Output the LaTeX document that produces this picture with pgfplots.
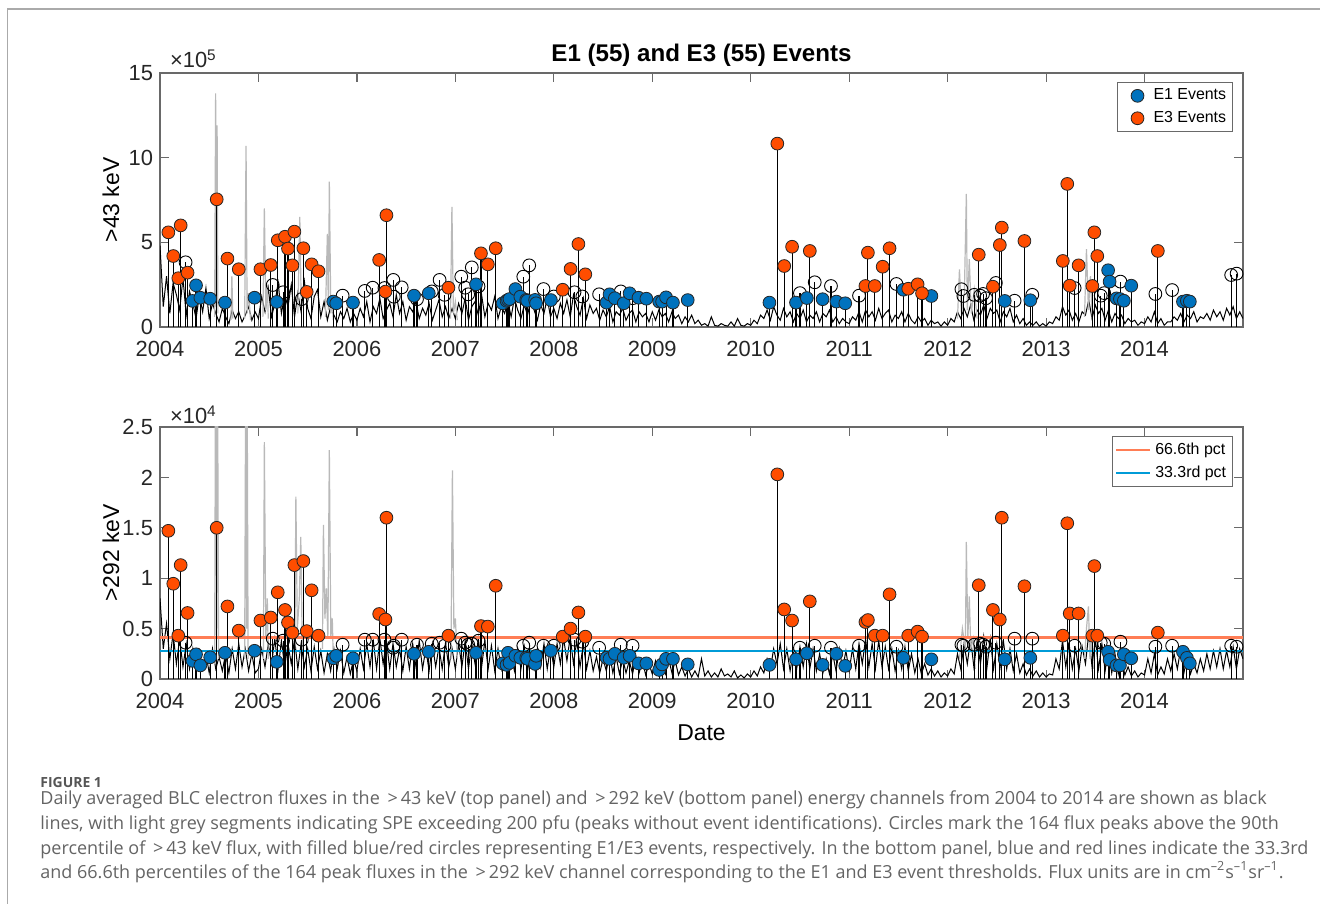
\documentclass[border=0pt]{standalone}
\usepackage{fontspec}
\setmainfont{Liberation Sans}
\newfontfamily\capfont{Open Sans}
\usepackage{pgfplots}
\usepackage{pgfplotstable}
\pgfplotsset{compat=1.18}

\definecolor{eone}{RGB}{0,114,189}
\definecolor{ethree}{RGB}{255,77,0}
\definecolor{pcthi}{RGB}{255,125,85}
\definecolor{pctlo}{RGB}{0,155,215}
\definecolor{spe}{RGB}{185,185,185}
\definecolor{axgray}{RGB}{105,105,105}
\definecolor{framegray}{RGB}{170,170,170}
\definecolor{captxt}{RGB}{100,100,100}
\definecolor{caphead}{RGB}{85,85,85}

% E1 events: date, >43 keV peak (x1e5), >292 keV peak (x1e4)
\pgfplotstableread{
t top bot
2004.330 1.54 0.180
2004.366 2.46 0.245
2004.410 1.73 0.135
2004.510 1.67 0.215
2004.660 1.44 0.260
2004.960 1.73 0.280
2005.186 1.48 0.170
2005.760 1.50 0.205
2005.790 1.40 0.230
2005.960 1.44 0.205
2006.580 1.85 0.250
2006.730 1.99 0.270
2007.210 2.52 0.260
2007.480 1.40 0.155
2007.520 1.55 0.140
2007.535 1.60 0.260
2007.550 1.65 0.160
2007.610 2.24 0.230
2007.660 1.79 0.210
2007.720 1.60 0.210
2007.730 1.55 0.200
2007.810 1.60 0.150
2007.820 1.40 0.230
2007.970 1.59 0.280
2008.535 1.44 0.210
2008.566 1.93 0.200
2008.620 1.70 0.250
2008.710 1.40 0.210
2008.770 1.99 0.230
2008.860 1.73 0.155
2008.940 1.67 0.155
2009.070 1.50 0.090
2009.100 1.50 0.145
2009.140 1.75 0.200
2009.210 1.44 0.200
2009.360 1.59 0.145
2010.190 1.44 0.140
2010.460 1.44 0.195
2010.570 1.71 0.255
2010.730 1.64 0.140
2010.870 1.50 0.250
2010.960 1.40 0.130
2011.550 2.20 0.210
2011.835 1.83 0.195
2012.580 1.54 0.195
2012.840 1.58 0.210
2013.630 3.35 0.270
2013.645 2.68 0.190
2013.715 1.69 0.135
2013.750 1.65 0.135
2013.790 1.55 0.245
2013.865 2.44 0.205
2014.390 1.50 0.270
2014.430 1.55 0.210
2014.460 1.50 0.155
}\evOne

% E3 events
\pgfplotstableread{
t top bot
2004.085 5.59 1.470
2004.135 4.19 0.945
2004.186 2.88 0.430
2004.210 6.00 1.130
2004.280 3.21 0.655
2004.576 7.54 1.500
2004.685 4.04 0.720
2004.800 3.41 0.480
2005.020 3.41 0.580
2005.125 3.66 0.610
2005.196 5.12 0.860
2005.270 5.33 0.685
2005.300 4.63 0.560
2005.345 3.64 0.460
2005.365 5.63 1.130
2005.456 4.65 1.170
2005.490 2.07 0.475
2005.540 3.70 0.880
2005.610 3.29 0.430
2006.226 3.96 0.645
2006.290 2.09 0.590
2006.300 6.60 1.600
2006.930 2.32 0.430
2007.260 4.35 0.525
2007.330 3.70 0.520
2007.410 4.65 0.925
2008.090 2.20 0.420
2008.170 3.43 0.500
2008.250 4.90 0.660
2008.320 3.11 0.420
2010.270 10.83 2.030
2010.340 3.60 0.690
2010.420 4.74 0.580
2010.600 4.49 0.770
2011.165 2.42 0.565
2011.190 4.39 0.585
2011.260 2.42 0.430
2011.340 3.56 0.430
2011.410 4.65 0.840
2011.600 2.26 0.430
2011.695 2.52 0.470
2011.740 1.99 0.420
2012.316 4.27 0.930
2012.460 2.38 0.685
2012.530 4.84 0.590
2012.550 5.87 1.600
2012.780 5.08 0.920
2013.170 3.90 0.430
2013.215 8.45 1.545
2013.240 2.44 0.650
2013.330 3.64 0.650
2013.470 2.42 0.430
2013.490 5.59 1.120
2013.520 4.19 0.430
2014.135 4.49 0.460
}\evThree

% remaining peaks above the 90th percentile (no event class)
\pgfplotstableread{
t top bot
2004.260 3.82 0.36
2005.145 2.48 0.40
2005.250 2.05 0.38
2005.440 1.65 0.39
2005.855 1.85 0.34
2006.080 2.13 0.39
2006.160 2.32 0.39
2006.280 2.30 0.39
2006.370 2.78 0.31
2006.375 1.79 0.33
2006.455 2.34 0.39
2006.610 1.64 0.34
2006.760 2.10 0.35
2006.840 2.78 0.36
2006.890 1.90 0.33
2007.060 2.97 0.40
2007.100 2.32 0.36
2007.130 1.93 0.34
2007.167 3.52 0.35
2007.235 2.40 0.38
2007.690 2.97 0.33
2007.750 3.64 0.36
2007.895 2.24 0.33
2008.000 1.80 0.33
2008.210 2.05 0.39
2008.290 1.80 0.37
2008.460 1.93 0.31
2008.680 2.10 0.34
2008.800 1.70 0.33
2010.500 2.00 0.31
2010.650 2.64 0.33
2010.815 2.42 0.31
2011.100 1.85 0.33
2011.480 2.54 0.32
2012.140 2.23 0.34
2012.160 1.83 0.33
2012.270 1.90 0.34
2012.330 1.85 0.35
2012.360 1.95 0.34
2012.390 1.70 0.32
2012.490 2.60 0.36
2012.680 1.55 0.40
2012.860 1.90 0.40
2013.290 2.30 0.33
2013.555 1.85 0.36
2013.590 2.00 0.35
2013.755 2.68 0.37
2014.110 1.95 0.32
2014.280 2.18 0.33
2014.880 3.07 0.33
2014.935 3.15 0.32
}\evOther

% >43 keV flux (x1e5), sampled 30 times per year from 2004.0
\pgfplotstableread[row sep=\\]{v\\
4.8\\1.2\\3.0\\0.8\\2.6\\1.9\\1.0\\2.9\\0.7\\2.1\\1.4\\0.5\\1.9\\0.9\\2.3\\0.5\\1.4\\0.8\\0.3\\1.1\\0.6\\0.2\\1.0\\0.5\\0.9\\0.3\\0.7\\1.2\\0.4\\0.9\\
0.5\\1.8\\0.9\\2.3\\0.6\\1.4\\2.6\\0.8\\1.9\\1.2\\2.5\\0.6\\2.0\\0.9\\2.7\\1.1\\0.5\\1.8\\2.2\\0.6\\1.5\\0.4\\1.2\\0.7\\0.3\\0.9\\0.5\\1.1\\0.3\\0.8\\
0.4\\1.1\\0.6\\1.5\\0.3\\1.2\\0.8\\1.7\\0.5\\1.0\\1.4\\0.6\\1.9\\0.8\\1.5\\0.4\\1.2\\0.9\\1.5\\0.5\\1.1\\0.7\\1.4\\0.4\\1.0\\1.6\\0.6\\1.2\\0.5\\1.1\\
0.5\\1.4\\0.8\\1.7\\0.4\\1.2\\1.5\\0.7\\1.9\\0.6\\1.4\\1.0\\1.8\\0.5\\1.2\\0.8\\1.5\\0.6\\1.7\\1.0\\0.5\\1.3\\0.7\\1.6\\1.0\\0.4\\1.3\\0.8\\1.7\\0.6\\
1.1\\0.5\\1.4\\0.8\\1.6\\0.6\\1.9\\1.2\\0.7\\1.7\\0.5\\1.3\\0.8\\1.1\\0.4\\1.0\\0.6\\1.2\\0.3\\0.9\\0.7\\1.1\\0.4\\0.8\\1.0\\0.3\\0.9\\0.6\\0.8\\0.3\\
0.9\\0.4\\1.0\\0.6\\0.8\\0.3\\0.9\\0.5\\0.7\\0.2\\0.6\\0.3\\0.7\\0.2\\0.4\\0.1\\0.2\\0.05\\0.6\\0.1\\0.05\\0.2\\0.1\\0.05\\0.3\\0.05\\0.5\\0.1\\0.05\\0.2\\
0.1\\0.4\\0.2\\0.7\\0.5\\1.0\\0.4\\1.2\\0.7\\0.4\\1.1\\0.6\\0.9\\0.3\\0.8\\0.5\\1.0\\0.3\\0.7\\0.5\\0.9\\0.3\\0.8\\0.6\\1.0\\0.3\\0.6\\0.2\\0.5\\0.3\\
0.2\\0.6\\0.4\\0.9\\0.3\\1.0\\0.6\\0.9\\0.4\\1.1\\0.5\\0.8\\1.0\\0.3\\0.7\\0.5\\0.9\\0.3\\0.8\\0.4\\0.2\\0.6\\0.3\\0.5\\0.1\\0.4\\0.2\\0.3\\0.05\\0.3\\
0.1\\0.5\\0.3\\0.9\\0.5\\1.1\\0.6\\1.3\\0.4\\1.0\\0.7\\1.3\\0.5\\1.1\\0.8\\1.0\\0.3\\0.9\\0.6\\1.1\\0.3\\0.7\\0.2\\0.5\\0.1\\0.3\\0.1\\0.3\\0.05\\0.2\\
0.05\\0.3\\0.2\\0.6\\0.4\\1.2\\0.7\\1.0\\0.4\\0.8\\0.3\\0.9\\0.7\\1.6\\0.5\\1.3\\0.8\\1.1\\0.4\\1.0\\0.3\\0.8\\0.5\\0.7\\0.2\\0.5\\0.3\\0.4\\0.1\\0.3\\
0.2\\0.6\\0.3\\0.9\\0.2\\0.5\\0.1\\0.3\\0.3\\0.6\\0.4\\0.8\\0.3\\0.7\\0.5\\0.9\\0.3\\0.6\\0.5\\0.8\\0.4\\1.0\\0.6\\0.9\\0.4\\1.1\\0.7\\1.2\\0.5\\0.9\\
0.5\\
}\fluxLow

% >292 keV flux (x1e4), same sampling
\pgfplotstableread[row sep=\\]{v\\
0.80\\0.30\\0.55\\0.20\\0.45\\0.15\\0.40\\0.12\\0.35\\0.10\\0.30\\0.08\\0.28\\0.10\\0.25\\0.06\\0.30\\0.10\\0.22\\0.08\\0.25\\0.06\\0.30\\0.10\\0.35\\0.12\\0.30\\0.08\\0.25\\0.06\\
0.10\\0.30\\0.12\\0.35\\0.15\\0.40\\0.10\\0.38\\0.12\\0.35\\0.15\\0.40\\0.10\\0.35\\0.12\\0.30\\0.08\\0.32\\0.10\\0.28\\0.06\\0.25\\0.08\\0.30\\0.10\\0.28\\0.06\\0.22\\0.05\\0.20\\
0.08\\0.30\\0.10\\0.35\\0.12\\0.38\\0.10\\0.40\\0.15\\0.38\\0.10\\0.35\\0.12\\0.30\\0.08\\0.32\\0.10\\0.35\\0.12\\0.38\\0.10\\0.30\\0.08\\0.35\\0.12\\0.32\\0.10\\0.36\\0.12\\0.30\\
0.10\\0.35\\0.12\\0.38\\0.10\\0.35\\0.15\\0.40\\0.12\\0.38\\0.10\\0.33\\0.08\\0.30\\0.10\\0.28\\0.06\\0.25\\0.08\\0.30\\0.10\\0.32\\0.08\\0.28\\0.10\\0.30\\0.12\\0.35\\0.10\\0.32\\
0.12\\0.35\\0.15\\0.40\\0.18\\0.42\\0.15\\0.38\\0.12\\0.35\\0.10\\0.28\\0.08\\0.22\\0.06\\0.20\\0.08\\0.25\\0.06\\0.22\\0.05\\0.20\\0.06\\0.18\\0.05\\0.22\\0.06\\0.18\\0.04\\0.15\\
0.05\\0.18\\0.04\\0.15\\0.05\\0.20\\0.06\\0.18\\0.04\\0.12\\0.03\\0.10\\0.02\\0.08\\0.02\\0.20\\0.03\\0.08\\0.02\\0.06\\0.02\\0.10\\0.03\\0.05\\0.02\\0.08\\0.01\\0.04\\0.01\\0.05\\
0.02\\0.08\\0.03\\0.12\\0.06\\0.20\\0.10\\0.30\\0.15\\0.35\\0.10\\0.30\\0.08\\0.28\\0.10\\0.32\\0.12\\0.35\\0.10\\0.30\\0.08\\0.25\\0.06\\0.20\\0.05\\0.25\\0.08\\0.30\\0.10\\0.28\\
0.08\\0.30\\0.10\\0.35\\0.15\\0.40\\0.12\\0.35\\0.10\\0.38\\0.12\\0.32\\0.10\\0.30\\0.08\\0.28\\0.10\\0.32\\0.08\\0.25\\0.06\\0.20\\0.05\\0.15\\0.04\\0.10\\0.03\\0.08\\0.02\\0.06\\
0.03\\0.10\\0.05\\0.25\\0.10\\0.35\\0.15\\0.40\\0.12\\0.38\\0.15\\0.42\\0.12\\0.40\\0.10\\0.35\\0.12\\0.38\\0.10\\0.30\\0.08\\0.25\\0.06\\0.15\\0.04\\0.10\\0.03\\0.08\\0.02\\0.06\\
0.02\\0.05\\0.04\\0.20\\0.10\\0.38\\0.12\\0.35\\0.10\\0.30\\0.08\\0.32\\0.15\\0.45\\0.12\\0.40\\0.10\\0.35\\0.08\\0.30\\0.06\\0.25\\0.05\\0.20\\0.04\\0.12\\0.03\\0.08\\0.02\\0.06\\
0.04\\0.20\\0.06\\0.25\\0.04\\0.12\\0.05\\0.20\\0.08\\0.25\\0.10\\0.30\\0.06\\0.22\\0.05\\0.15\\0.06\\0.20\\0.08\\0.25\\0.10\\0.28\\0.12\\0.30\\0.10\\0.28\\0.12\\0.32\\0.10\\0.30\\
0.20\\
}\fluxHigh

% solar proton event segments, >43 keV (x1e5)
\pgfplotstableread{
t v
2004.555 0.6
2004.565 13.8
2004.572 1.2
2004.580 11.9
2004.588 0.8
nan nan
2004.720 0.4
2004.730 3.0
2004.740 0.5
nan nan
2004.860 0.5
2004.874 10.7
2004.885 0.8
2004.900 2.0
2004.920 0.4
nan nan
2005.045 0.6
2005.060 7.0
2005.075 1.0
2005.090 2.5
2005.100 0.5
nan nan
2005.400 0.8
2005.420 6.5
2005.435 1.2
nan nan
2005.680 0.6
2005.700 5.5
2005.710 1.0
2005.720 8.58
2005.735 0.8
2005.750 1.5
2005.760 0.4
nan nan
2006.950 0.5
2006.965 7.1
2006.980 0.8
2007.000 1.5
2007.020 0.4
nan nan
2012.100 0.5
2012.120 3.4
2012.140 0.8
2012.170 2.0
2012.190 7.86
2012.200 1.0
2012.220 4.0
2012.240 0.8
2012.270 2.2
2012.300 0.5
nan nan
2013.390 0.6
2013.410 4.6
2013.430 1.0
2013.450 3.0
2013.470 0.5
}\speLow

% solar proton event segments, >292 keV (x1e4)
\pgfplotstableread{
t v
2004.555 0.15
2004.565 3.5
2004.575 0.4
2004.585 3.0
2004.595 0.2
nan nan
2004.860 0.2
2004.870 3.0
2004.878 0.5
2004.885 3.0
2004.895 0.2
nan nan
2005.050 0.2
2005.060 2.35
2005.075 0.4
2005.090 0.8
2005.100 0.2
nan nan
2005.370 0.3
2005.380 1.81
2005.395 0.5
2005.415 0.8
2005.430 1.41
2005.445 0.3
nan nan
2005.650 0.3
2005.660 1.53
2005.675 0.6
2005.690 0.9
2005.705 0.4
2005.720 2.27
2005.735 0.4
2005.750 0.6
2005.760 0.2
nan nan
2006.955 0.2
2006.970 2.07
2006.985 0.5
2007.000 0.6
2007.020 0.2
nan nan
2012.120 0.2
2012.150 0.5
2012.180 0.3
2012.190 1.36
2012.205 0.4
2012.220 0.82
2012.235 0.3
2012.260 0.4
2012.280 0.1
nan nan
2013.390 0.2
2013.410 0.5
2013.430 0.72
2013.445 0.2
2013.460 0.4
2013.480 0.1
}\speHigh

% percentile thresholds of the 164 peak fluxes, >292 keV (x1e4)
\pgfplotstableread{
t hi lo
2004 0.41 0.278
2015 0.41 0.278
}\thresholds

\pgfplotsset{
  fluxaxis/.style={
    scale only axis, width=541.5bp,
    xmin=2004, xmax=2015, ymin=0,
    xtick={2004,2005,2006,2007,2008,2009,2010,2011,2012,2013,2014},
    tick align=inside, major tick length=4.7bp,
    axis line style={draw=axgray, line width=0.6bp},
    every tick/.append style={draw=axgray, line width=0.6bp},
    tick label style={font=\fontsize{11}{13}\selectfont, text=black!85},
    xticklabel style={yshift=-3.5bp},
    /pgf/number format/1000 sep={},
    /pgf/number format/assume math mode=true,
    scaled y ticks=false,
    every axis y label/.style={at={(axis description cs:-0.0452,0.5)}, rotate=90, anchor=center, font=\fontsize{11.5}{13}\selectfont},
    every axis x label/.style={at={(axis description cs:0.5,-0.214)}, anchor=center, font=\fontsize{11.5}{13}\selectfont},
    legend cell align=left,
    legend style={draw=axgray, line width=0.5bp, font=\fontsize{8}{10}\selectfont, inner sep=1.2bp, row sep=0.2bp},
  },
  dailyflux/.style={black, line width=0.5bp, forget plot},
  spesegment/.style={spe, line width=0.6bp, unbounded coords=jump, forget plot},
  stem/.style={ycomb, black, line width=0.55bp, no marks, forget plot},
  peakopen/.style={only marks, mark=o, mark size=3.2bp, mark options={draw=black, line width=0.45bp}, forget plot},
  peakmark/.style={draw=none, mark=*, mark size=3.2bp,
    mark options={fill=#1, draw=black!85, line width=0.4bp},
    legend image code/.code={\draw[mark repeat=2, mark phase=2, ##1, draw=none] plot coordinates {(0bp,0bp) (9bp,0bp) (15bp,0bp)};}},
}

\begin{document}
\begin{tikzpicture}
\useasboundingbox (0,0) rectangle (660bp,452bp);
\draw[framegray, line width=0.75bp] (3.7bp,0) -- (3.7bp,447.5bp) -- (660bp,447.5bp);

% >43 keV panel
\begin{axis}[fluxaxis, at={(80bp,288.5bp)}, anchor=south west, height=127bp,
  ymax=15, ytick={0,5,10,15}, ylabel={>43 keV},
  title={E1 (55) and E3 (55) Events},
  title style={font=\bfseries\fontsize{12.1}{14}\selectfont, at={(axis description cs:0.5,1.024)}, anchor=center, yshift=0pt},
  legend style={at={(0.9908,0.9646)}, anchor=north east}]
\addplot[dailyflux] table[x expr={2004+\coordindex/30}, y=v] {\fluxLow};
\addplot[spesegment] table[x=t, y=v] {\speLow};
\addplot[stem] table[x=t, y=top] {\evOther};
\addplot[stem] table[x=t, y=top] {\evOne};
\addplot[stem] table[x=t, y=top] {\evThree};
\addplot[peakopen] table[x=t, y=top] {\evOther};
\addplot[peakmark=eone] table[x=t, y=top] {\evOne};
\addlegendentry{E1 Events}
\addplot[peakmark=ethree] table[x=t, y=top] {\evThree};
\addlegendentry{E3 Events}
\end{axis}
\node[anchor=base west, font=\fontsize{11}{13}\selectfont, text=black!85] at (81.5bp,418bp) {×10\textsuperscript{5}};

% >292 keV panel
\begin{axis}[fluxaxis, at={(80bp,112.5bp)}, anchor=south west, height=126bp,
  ymax=2.5, ytick={0,0.5,1,1.5,2,2.5}, ylabel={>292 keV}, xlabel={Date},
  legend style={at={(0.9908,0.9655)}, anchor=north east}]
\addplot[dailyflux] table[x expr={2004+\coordindex/30}, y=v] {\fluxHigh};
\addplot[spesegment] table[x=t, y=v] {\speHigh};
\addplot[pcthi, line width=1.2bp] table[x=t, y=hi] {\thresholds};
\addlegendentry{66.6th pct}
\addplot[pctlo, line width=1.2bp] table[x=t, y=lo] {\thresholds};
\addlegendentry{33.3rd pct}
\addplot[stem] table[x=t, y=bot] {\evOther};
\addplot[stem] table[x=t, y=bot] {\evOne};
\addplot[stem] table[x=t, y=bot] {\evThree};
\addplot[peakopen] table[x=t, y=bot] {\evOther};
\addplot[peakmark=eone, forget plot] table[x=t, y=bot] {\evOne};
\addplot[peakmark=ethree, forget plot] table[x=t, y=bot] {\evThree};
\end{axis}
\node[anchor=base west, font=\fontsize{11}{13}\selectfont, text=black!85] at (81.5bp,240bp) {×10\textsuperscript{4}};

% caption
\node[anchor=base west, inner sep=0pt, font=\capfont\bfseries\fontsize{7}{9}\selectfont, text=caphead] at (20bp,58.4bp) {FIGURE 1};
\begin{scope}[every node/.style={anchor=base west, font=\capfont\fontsize{9.03}{10}\selectfont, text=captxt, inner sep=0pt}]
\node at (20bp,49.5bp) {Daily averaged BLC electron fluxes in the \,>\,43 keV (top panel) and \,>\,292 keV (bottom panel) energy channels from 2004 to 2014 are shown as black};
\node at (20bp,37.25bp) {lines, with light grey segments indicating SPE exceeding 200 pfu (peaks without event identifications). Circles mark the 164 flux peaks above the 90th};
\node at (20bp,25bp) {percentile of \,>\,43 keV flux, with filled blue/red circles representing E1/E3 events, respectively. In the bottom panel, blue and red lines indicate the 33.3rd};
\node at (20bp,12.75bp) {and 66.6th percentiles of the 164 peak fluxes in the \,>\,292 keV channel corresponding to the E1 and E3 event thresholds. Flux units are in cm\textsuperscript{–2}s\textsuperscript{–1}sr\textsuperscript{–1}.};
\end{scope}
\end{tikzpicture}
\end{document}
